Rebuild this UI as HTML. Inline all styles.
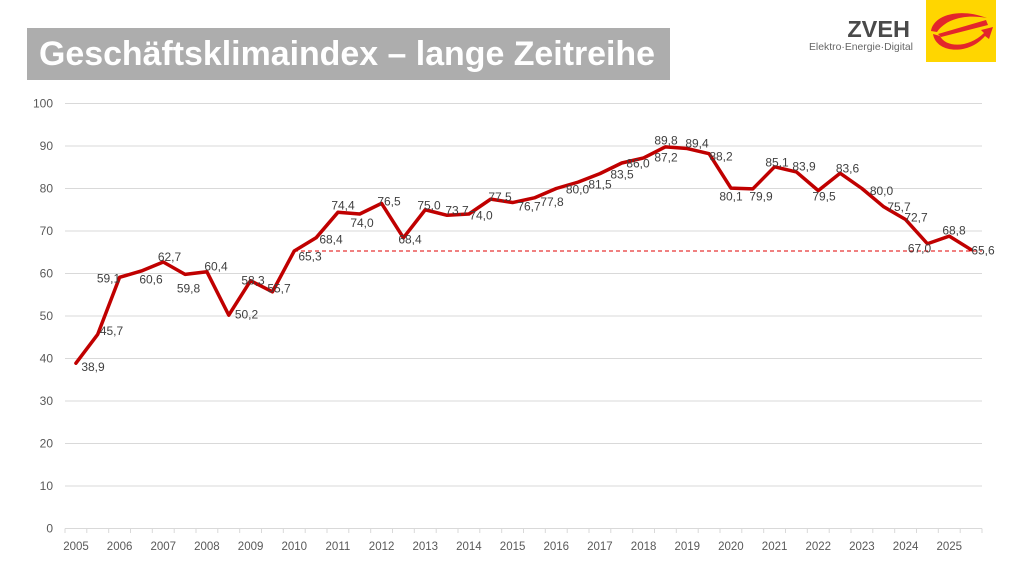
<!DOCTYPE html>
<html><head><meta charset="utf-8"><style>
html,body{margin:0;padding:0;background:#fff;}
svg{display:block;}
</style></head><body>
<svg width="1024" height="576" viewBox="0 0 1024 576" xmlns="http://www.w3.org/2000/svg" font-family="'Liberation Sans', Arial, sans-serif">
<rect width="1024" height="576" fill="#fff"/>
<!-- Title -->
<rect x="27" y="28" width="643" height="52" fill="#adadad"/>
<text x="39" y="65" font-size="34" font-weight="bold" fill="#fff" textLength="616" lengthAdjust="spacingAndGlyphs">Geschäftsklimaindex – lange Zeitreihe</text>
<!-- Logo -->
<text x="910" y="37" font-size="23.5" font-weight="bold" fill="#4a4a4a" text-anchor="end">ZVEH</text>
<text x="809" y="50" font-size="10.3" fill="#666" textLength="104" lengthAdjust="spacingAndGlyphs">Elektro·Energie·Digital</text>
<rect x="926" y="0" width="70" height="62" fill="#ffd600"/>
<g fill="#e3262b">
<path d="M931,31 C933,16 958,7 987,18 C965,14 946,19 937,32 Z"/>
<path d="M938,34 L986,20 L988,25 L941,37 Z"/>
<path d="M933,34 C936,53 968,56 985,36 L989,39 L993,27 L981,30 L984,33 C969,48 946,48 940,36 Z"/>
</g>
<!-- Gridlines -->
<g stroke="#d9d9d9" stroke-width="1">
<line x1="65" x2="982" y1="103.5" y2="103.5"/>
<line x1="65" x2="982" y1="146" y2="146"/>
<line x1="65" x2="982" y1="188.5" y2="188.5"/>
<line x1="65" x2="982" y1="231" y2="231"/>
<line x1="65" x2="982" y1="273.5" y2="273.5"/>
<line x1="65" x2="982" y1="316" y2="316"/>
<line x1="65" x2="982" y1="358.5" y2="358.5"/>
<line x1="65" x2="982" y1="401" y2="401"/>
<line x1="65" x2="982" y1="443.5" y2="443.5"/>
<line x1="65" x2="982" y1="486" y2="486"/>
<line x1="65" x2="982" y1="528.5" y2="528.5"/>
</g>
<!-- Y labels -->
<g font-size="12" fill="#595959" text-anchor="end">
<text x="53" y="107.5">100</text>
<text x="53" y="150">90</text>
<text x="53" y="192.5">80</text>
<text x="53" y="235">70</text>
<text x="53" y="277.5">60</text>
<text x="53" y="320">50</text>
<text x="53" y="362.5">40</text>
<text x="53" y="405">30</text>
<text x="53" y="447.5">20</text>
<text x="53" y="490">10</text>
<text x="53" y="532.5">0</text>
</g>
<!-- X labels -->
<g font-size="11.5" fill="#595959" text-anchor="middle">
<text x="76" y="550">2005</text>
<text x="119.6" y="550">2006</text>
<text x="163.3" y="550">2007</text>
<text x="206.9" y="550">2008</text>
<text x="250.6" y="550">2009</text>
<text x="294.3" y="550">2010</text>
<text x="337.9" y="550">2011</text>
<text x="381.6" y="550">2012</text>
<text x="425.3" y="550">2013</text>
<text x="468.9" y="550">2014</text>
<text x="512.6" y="550">2015</text>
<text x="556.3" y="550">2016</text>
<text x="599.9" y="550">2017</text>
<text x="643.6" y="550">2018</text>
<text x="687.3" y="550">2019</text>
<text x="730.9" y="550">2020</text>
<text x="774.6" y="550">2021</text>
<text x="818.3" y="550">2022</text>
<text x="861.9" y="550">2023</text>
<text x="905.6" y="550">2024</text>
<text x="949.3" y="550">2025</text>
</g>
<!-- Dashed reference -->
<line x1="294" x2="982" y1="251" y2="251" stroke="#e00000" stroke-width="1" stroke-dasharray="4,3"/>
<!-- Series -->
<polyline fill="none" stroke="#c00000" stroke-width="3.5" stroke-linejoin="round" stroke-linecap="round" points="75.92,363.18 97.75,334.28 119.58,277.33 141.42,270.95 163.25,262.03 185.08,274.35 206.92,271.8 228.75,315.15 250.58,280.73 272.42,291.78 294.25,250.98 316.08,237.8 337.92,212.3 359.75,214.0 381.58,203.38 403.42,237.8 425.25,209.75 447.08,215.28 468.92,214.0 490.75,199.13 512.58,202.53 534.42,197.85 556.25,188.5 578.08,182.13 599.92,173.63 621.75,163.0 643.58,157.9 665.42,146.85 687.25,148.55 709.08,153.65 730.92,188.08 752.75,188.93 774.58,166.83 796.42,171.93 818.25,190.63 840.08,173.2 861.92,188.5 883.75,206.78 905.58,219.53 927.42,243.75 949.25,236.1 971.08,249.7"/>
<!-- Data labels -->
<g font-size="12" fill="#404040" text-anchor="middle">
<text x="93" y="371">38,9</text>
<text x="111.5" y="335">45,7</text>
<text x="108.5" y="282.3">59,1</text>
<text x="151" y="283.3">60,6</text>
<text x="169.5" y="261">62,7</text>
<text x="188.5" y="292.3">59,8</text>
<text x="216" y="270.3">60,4</text>
<text x="246.5" y="318.3">50,2</text>
<text x="253" y="284.3">58,3</text>
<text x="279" y="292.6">55,7</text>
<text x="310" y="260.3">65,3</text>
<text x="331" y="243.3">68,4</text>
<text x="343" y="209.3">74,4</text>
<text x="362" y="227">74,0</text>
<text x="389" y="205.3">76,5</text>
<text x="410" y="243.3">68,4</text>
<text x="429" y="209.3">75,0</text>
<text x="457" y="214.3">73,7</text>
<text x="481" y="219.3">74,0</text>
<text x="500" y="201">77,5</text>
<text x="529" y="210.3">76,7</text>
<text x="552" y="206">77,8</text>
<text x="577.5" y="193.3">80,0</text>
<text x="600" y="188.3">81,5</text>
<text x="622" y="178.3">83,5</text>
<text x="638" y="167.3">86,0</text>
<text x="666" y="161.3">87,2</text>
<text x="666" y="144.3">89,8</text>
<text x="697" y="147.3">89,4</text>
<text x="721" y="160.3">88,2</text>
<text x="731" y="200.3">80,1</text>
<text x="761" y="200.3">79,9</text>
<text x="777" y="166.3">85,1</text>
<text x="804" y="170.3">83,9</text>
<text x="824" y="200.3">79,5</text>
<text x="847.5" y="172.3">83,6</text>
<text x="881.5" y="195">80,0</text>
<text x="899" y="211">75,7</text>
<text x="916" y="221.3">72,7</text>
<text x="919.5" y="252.3">67,0</text>
<text x="954" y="234.3">68,8</text>
<text x="983" y="254.3">65,6</text>
</g>
<!-- x-axis tick marks -->
<g stroke="#d9d9d9" stroke-width="1">
<line x1="65" x2="65" y1="528.5" y2="533"/><line x1="86.8" x2="86.8" y1="528.5" y2="533"/><line x1="108.7" x2="108.7" y1="528.5" y2="533"/><line x1="130.5" x2="130.5" y1="528.5" y2="533"/><line x1="152.3" x2="152.3" y1="528.5" y2="533"/><line x1="174.2" x2="174.2" y1="528.5" y2="533"/><line x1="196" x2="196" y1="528.5" y2="533"/><line x1="217.8" x2="217.8" y1="528.5" y2="533"/><line x1="239.7" x2="239.7" y1="528.5" y2="533"/><line x1="261.5" x2="261.5" y1="528.5" y2="533"/><line x1="283.3" x2="283.3" y1="528.5" y2="533"/><line x1="305.2" x2="305.2" y1="528.5" y2="533"/><line x1="327" x2="327" y1="528.5" y2="533"/><line x1="348.8" x2="348.8" y1="528.5" y2="533"/><line x1="370.7" x2="370.7" y1="528.5" y2="533"/><line x1="392.5" x2="392.5" y1="528.5" y2="533"/><line x1="414.3" x2="414.3" y1="528.5" y2="533"/><line x1="436.2" x2="436.2" y1="528.5" y2="533"/><line x1="458" x2="458" y1="528.5" y2="533"/><line x1="479.8" x2="479.8" y1="528.5" y2="533"/><line x1="501.7" x2="501.7" y1="528.5" y2="533"/><line x1="523.5" x2="523.5" y1="528.5" y2="533"/><line x1="545.3" x2="545.3" y1="528.5" y2="533"/><line x1="567.2" x2="567.2" y1="528.5" y2="533"/><line x1="589" x2="589" y1="528.5" y2="533"/><line x1="610.8" x2="610.8" y1="528.5" y2="533"/><line x1="632.7" x2="632.7" y1="528.5" y2="533"/><line x1="654.5" x2="654.5" y1="528.5" y2="533"/><line x1="676.3" x2="676.3" y1="528.5" y2="533"/><line x1="698.2" x2="698.2" y1="528.5" y2="533"/><line x1="720" x2="720" y1="528.5" y2="533"/><line x1="741.8" x2="741.8" y1="528.5" y2="533"/><line x1="763.7" x2="763.7" y1="528.5" y2="533"/><line x1="785.5" x2="785.5" y1="528.5" y2="533"/><line x1="807.3" x2="807.3" y1="528.5" y2="533"/><line x1="829.2" x2="829.2" y1="528.5" y2="533"/><line x1="851" x2="851" y1="528.5" y2="533"/><line x1="872.8" x2="872.8" y1="528.5" y2="533"/><line x1="894.7" x2="894.7" y1="528.5" y2="533"/><line x1="916.5" x2="916.5" y1="528.5" y2="533"/><line x1="938.3" x2="938.3" y1="528.5" y2="533"/><line x1="960.2" x2="960.2" y1="528.5" y2="533"/><line x1="982" x2="982" y1="528.5" y2="533"/>
</g>
</svg>
</body></html>
